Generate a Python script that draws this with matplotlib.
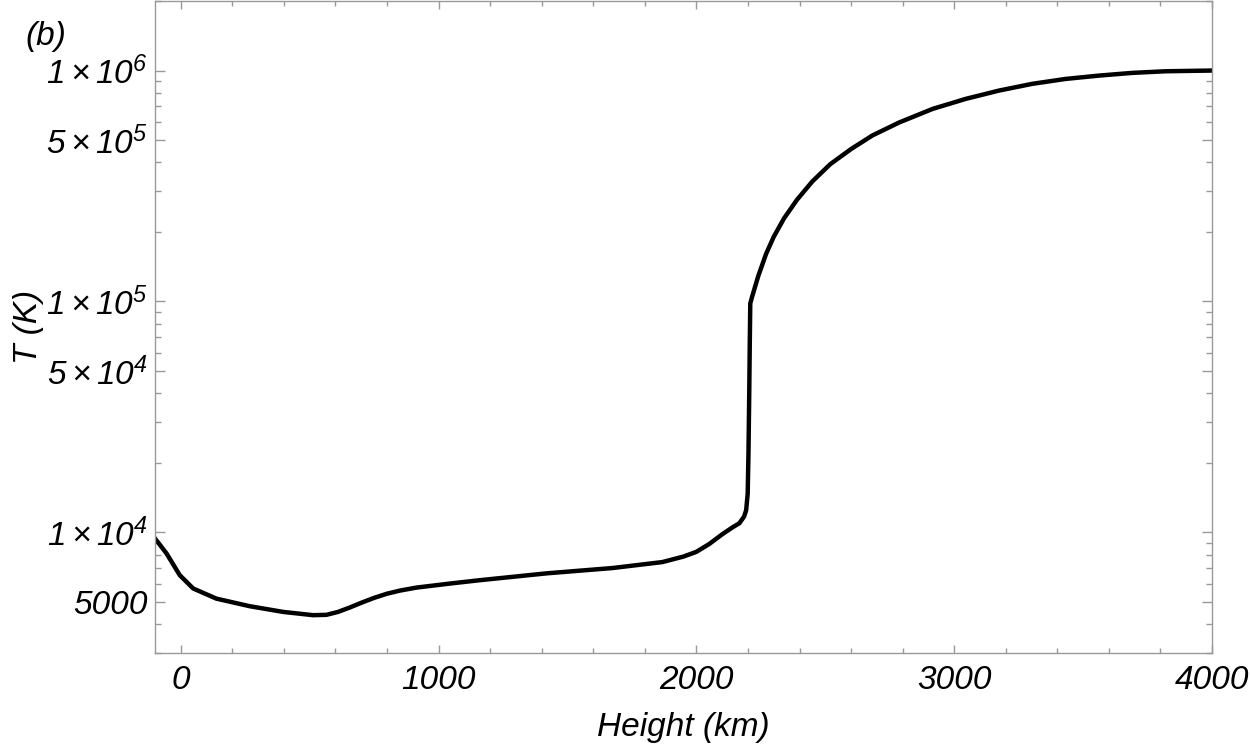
import matplotlib
matplotlib.use("Agg")
import matplotlib.pyplot as plt
from matplotlib.ticker import FixedLocator, NullFormatter

plt.rcParams["font.family"] = ["Liberation Sans", "DejaVu Sans"]
plt.rcParams["font.style"] = "italic"
plt.rcParams["mathtext.fontset"] = "custom"
plt.rcParams["mathtext.rm"] = "Liberation Sans:italic"
plt.rcParams["mathtext.it"] = "Liberation Sans:italic"
plt.rcParams["mathtext.default"] = "rm"

# Temperature profile
height_km = [-100, -55, -4, 48, 138, 267, 397, 513, 565, 610, 655, 700, 750, 800,
             850, 914, 1043, 1159, 1419, 1674, 1868, 1950, 2000, 2050, 2100,
             2140, 2167, 2185, 2193, 2199, 2202, 2205, 2207, 2209, 2216, 2240,
             2270, 2300, 2340, 2390, 2450, 2520, 2600, 2683, 2787, 2916, 3045,
             3174, 3303, 3433, 3562, 3691, 3821, 4000]
temp_k = [9400, 8090, 6520, 5710, 5160, 4785, 4520, 4375, 4390, 4520, 4720, 4950,
          5200, 5420, 5590, 5760, 5995, 6200, 6640, 7000, 7430, 7850, 8230, 8900,
          9800, 10500, 10950, 11700, 12450, 14700, 22000, 40000, 65000, 98000,
          104700, 128800, 160300, 190500, 229000, 275400, 331100, 393600,
          457100, 523600, 596000, 682000, 754000, 819000, 876000, 920000,
          951000, 977000, 993000, 1000000]

x_ticks = [0, 1000, 2000, 3000, 4000]
x_minor = [-200 + 200 * i for i in range(22)]
y_major = [5000, 1e4, 5e4, 1e5, 5e5, 1e6]
y_labels = ["5000", r"$1\times10^{4}$", r"$5\times10^{4}$",
            r"$1\times10^{5}$", r"$5\times10^{5}$", r"$1\times10^{6}$"]
y_minor = [m * 10 ** e for e in (3, 4, 5, 6) for m in (2, 3, 4, 6, 7, 8, 9)]

fig = plt.figure(figsize=(12.5, 7.48), dpi=100)
ax = fig.add_axes([0.124, 0.127, 0.8456, 0.8716])

ax.plot(height_km, temp_k, color="black", lw=3.2, solid_joinstyle="round")
ax.set_yscale("log")
ax.set_xlim(-100, 4000)
ax.set_ylim(3000, 2e6)

ax.xaxis.set_major_locator(FixedLocator(x_ticks))
ax.xaxis.set_minor_locator(FixedLocator(x_minor))
ax.yaxis.set_major_locator(FixedLocator(y_major))
ax.yaxis.set_minor_locator(FixedLocator(y_minor))
ax.set_xticklabels([str(t) for t in x_ticks])
ax.set_yticklabels(y_labels)
ax.yaxis.set_minor_formatter(NullFormatter())

frame_color = "#999999"
for s in ax.spines.values():
    s.set_color(frame_color)
    s.set_linewidth(1.0)

ax.tick_params(axis="both", which="both", direction="in", top=True, right=True,
               color=frame_color, labelcolor="black", labelsize=24, width=1.0)
ax.tick_params(axis="x", which="major", length=6, pad=8.5)
ax.tick_params(axis="x", which="minor", length=3.3)
ax.tick_params(axis="y", which="major", length=7.5, pad=5)
ax.tick_params(axis="y", which="minor", length=4.5)

ax.set_xlabel("Height (km)", fontsize=24, labelpad=12)
ax.set_ylabel("T (K)", fontsize=24)
ax.yaxis.set_label_coords(-0.105, 0.5)

fig.text(0.02, 0.951, "(b)", fontsize=24, ha="left", va="center")

fig.savefig("out.png", dpi=100)
